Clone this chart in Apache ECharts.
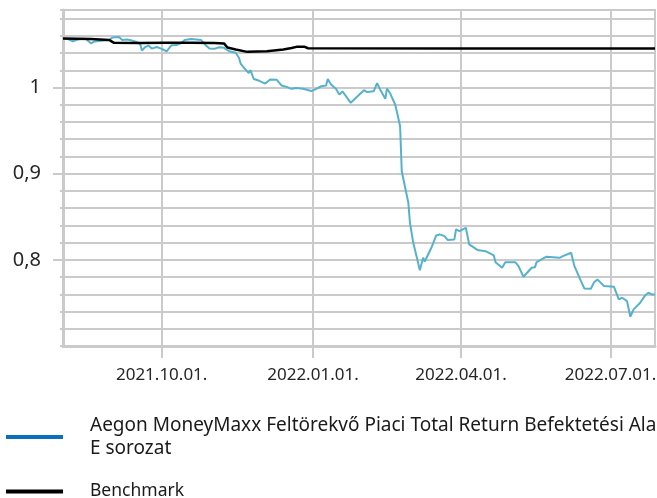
<!DOCTYPE html>
<html>
<head>
<meta charset="utf-8">
<script src="https://cdn.jsdelivr.net/npm/echarts@6/dist/echarts.min.js"></script>
<style>
html,body{margin:0;padding:0;background:#fff;}
#chart{width:657px;height:498px;}
</style>
</head>
<body>
<div id="chart"></div>
<script>
// ---- data ----
const fundName = 'Aegon MoneyMaxx Feltörekvő Piaci Total Return Befektetési Alap\nE sorozat';
const benchName = 'Benchmark';

const fundDates = [
 '2021-08-02','2021-08-05','2021-08-08','2021-08-11','2021-08-14','2021-08-16','2021-08-19','2021-08-21','2021-08-24','2021-08-27',
 '2021-08-30','2021-09-01','2021-09-05','2021-09-07','2021-09-10','2021-09-13','2021-09-16','2021-09-18','2021-09-19','2021-09-21',
 '2021-09-23','2021-09-25','2021-09-28','2021-10-01','2021-10-04','2021-10-05','2021-10-07','2021-10-10','2021-10-13','2021-10-15',
 '2021-10-19','2021-10-22','2021-10-25','2021-10-28','2021-10-30','2021-11-02','2021-11-05','2021-11-08','2021-11-11','2021-11-15',
 '2021-11-17','2021-11-18','2021-11-21','2021-11-23','2021-11-24','2021-11-26','2021-11-29','2021-12-03','2021-12-06','2021-12-10',
 '2021-12-13','2021-12-16','2021-12-19','2021-12-22','2021-12-26','2021-12-31','2022-01-03','2022-01-06','2022-01-09','2022-01-10',
 '2022-01-12','2022-01-15','2022-01-17','2022-01-19','2022-01-24','2022-01-27','2022-02-01','2022-02-03','2022-02-07','2022-02-09',
 '2022-02-11','2022-02-14','2022-02-15','2022-02-17','2022-02-20','2022-02-21','2022-02-23','2022-02-24','2022-02-25','2022-02-28',
 '2022-03-01','2022-03-03','2022-03-05','2022-03-07','2022-03-09','2022-03-10','2022-03-11','2022-03-14','2022-03-17','2022-03-19',
 '2022-03-22','2022-03-24','2022-03-28','2022-03-29','2022-03-31','2022-04-04','2022-04-06','2022-04-11','2022-04-16','2022-04-21',
 '2022-04-22','2022-04-26','2022-04-28','2022-05-04','2022-05-06','2022-05-09','2022-05-14','2022-05-16','2022-05-17','2022-05-23',
 '2022-05-31','2022-06-02','2022-06-07','2022-06-09','2022-06-13','2022-06-15','2022-06-19','2022-06-21','2022-06-23','2022-06-27',
 '2022-07-03','2022-07-06','2022-07-08','2022-07-11','2022-07-13','2022-07-15','2022-07-19','2022-07-22','2022-07-24','2022-07-26',
 '2022-07-28'
];
const fundValues = [
 1.0563,1.0563,1.0537,1.0557,1.0565,1.0563,1.0513,1.0534,1.0539,1.0545,
 1.0551,1.0580,1.0586,1.0551,1.0557,1.0545,1.0528,1.0499,1.0429,1.0470,
 1.0487,1.0452,1.0470,1.0449,1.0421,1.0412,1.0491,1.0493,1.0516,1.0551,
 1.0563,1.0557,1.0551,1.0487,1.0452,1.0449,1.0468,1.0461,1.0421,1.0403,
 1.0345,1.0278,1.0209,1.0168,1.0201,1.0099,1.0081,1.0046,1.0093,1.0089,
 1.0023,1.0008,0.9985,0.9994,0.9985,0.9959,0.9985,1.0015,1.0023,1.0099,
 1.0035,0.9985,0.9919,0.9954,0.9823,0.9878,0.9969,0.9948,0.9957,1.0052,
 0.9971,0.9869,0.9988,0.9930,0.9803,0.9722,0.9551,0.9029,0.9029,0.8662,
 0.8430,0.8198,0.8043,0.7880,0.8024,0.7981,0.7987,0.8140,0.8283,0.8295,
 0.8275,0.8229,0.8237,0.8353,0.8333,0.8372,0.8179,0.8115,0.8101,0.8051,
 0.7973,0.7908,0.7973,0.7973,0.7927,0.7804,0.7908,0.7915,0.7973,0.8036,
 0.8024,0.8043,0.8082,0.7927,0.7753,0.7668,0.7665,0.7741,0.7773,0.7695,
 0.7688,0.7541,0.7560,0.7521,0.7340,0.7425,0.7502,0.7587,0.7618,0.7599,
 0.7599
];

const benchDates = [
 '2021-08-02','2021-08-19','2021-08-30','2021-08-31','2021-09-02','2021-09-18','2021-10-03','2021-10-18','2021-11-02','2021-11-08',
 '2021-11-10','2021-11-15','2021-11-22','2021-12-04','2021-12-14','2021-12-19','2021-12-22','2021-12-27','2021-12-29','2022-04-01',
 '2022-07-28'
];
const benchValues = [
 1.0570,1.0563,1.0553,1.0551,1.0519,1.0516,1.0519,1.0519,1.0516,1.0510,
 1.0464,1.0441,1.0414,1.0421,1.0441,1.0458,1.0472,1.0472,1.0456,1.0452,
 1.0452
];

const xMin = '2021-08-02';
const xMax = '2022-07-28';
const xTickDates = ['2021-10-01','2022-01-01','2022-04-01','2022-07-01'];
const yMin = 0.7, yMax = 1.09, yStep = 0.02;
const yLabelValues = [0.8, 0.9, 1];

// ---- helpers ----
function ts(s){ const p = s.split('-').map(Number); return Date.UTC(p[0], p[1]-1, p[2]); }
function pad(n){ return (n < 10 ? '0' : '') + n; }
function fmtDate(v){ const d = new Date(v); return d.getUTCFullYear() + '.' + pad(d.getUTCMonth()+1) + '.' + pad(d.getUTCDate()) + '.'; }

const fundData = fundDates.map((d,i)=>[ts(d), fundValues[i]]);
const benchData = benchDates.map((d,i)=>[ts(d), benchValues[i]]);
const xTicks = xTickDates.map(ts);

const gridColor = '#cacaca';
const FONT = 'Noto Sans';

const chart = echarts.init(document.getElementById('chart'), null, {renderer:'canvas'});
chart.setOption({
  animation: false,
  backgroundColor: '#ffffff',
  grid: {
    left: 63, right: 2, top: 10, bottom: 152,
    show: true, borderColor: gridColor, borderWidth: 2, backgroundColor: 'transparent',
    outerBoundsMode: 'none', containLabel: false
  },
  xAxis: {
    type: 'value',
    min: ts(xMin), max: ts(xMax),
    axisLine: { show: true, lineStyle: { color: gridColor, width: 3 } },
    axisTick: { show: true, customValues: xTicks, length: 12, lineStyle: { color: gridColor, width: 2 } },
    axisLabel: { customValues: xTicks, formatter: fmtDate, margin: 21, color: '#262626', fontFamily: FONT, fontSize: 17, hideOverlap: false, showMinLabel: true, showMaxLabel: true },
    splitLine: { show: true, lineStyle: { color: gridColor, width: 2 } }
  },
  yAxis: [
    {
      type: 'value', position: 'left', min: yMin, max: yMax, interval: yStep,
      axisLine: { show: true, lineStyle: { color: gridColor, width: 3 } },
      axisTick: { show: true, length: 3, lineStyle: { color: gridColor, width: 2 } },
      axisLabel: { show: false },
      splitLine: { show: true, lineStyle: { color: gridColor, width: 2 } }
    },
    {
      type: 'value', position: 'left', min: yMin, max: yMax,
      axisLine: { show: false },
      axisTick: { show: true, customValues: yLabelValues, length: 10, lineStyle: { color: gridColor, width: 2 } },
      axisLabel: { customValues: yLabelValues, margin: 22, color: '#262626', fontFamily: FONT, fontSize: 20,
        formatter: v => String(Math.round(v*10)/10).replace('.', ',') },
      splitLine: { show: false }
    }
  ],
  legend: [
    {
      left: 6, top: 414, padding: 0, orient: 'vertical', icon: 'rect', itemWidth: 57, itemHeight: 4,
      selectedMode: false,
      textStyle: { fontFamily: FONT, fontSize: 19, color: '#1a1a1a', lineHeight: 23, padding: [0,0,0,22] },
      data: [{ name: fundName, itemStyle: { color: '#0a6fbd' } }]
    },
    {
      left: 6, top: 480, padding: 0, orient: 'vertical', icon: 'rect', itemWidth: 57, itemHeight: 4,
      selectedMode: false,
      textStyle: { fontFamily: FONT, fontSize: 17.5, color: '#1a1a1a', lineHeight: 23, padding: [0,0,0,22] },
      data: [{ name: benchName, itemStyle: { color: '#000000' } }]
    }
  ],
  series: [
    {
      name: fundName, type: 'line', data: fundData, yAxisIndex: 0,
      symbol: 'none', smooth: false,
      lineStyle: { color: '#56b2cc', width: 2 }, itemStyle: { color: '#56b2cc' }, z: 3
    },
    {
      name: benchName, type: 'line', data: benchData, yAxisIndex: 0,
      symbol: 'none', smooth: false,
      lineStyle: { color: '#000000', width: 2.5 }, itemStyle: { color: '#000000' }, z: 4
    }
  ]
});
</script>
</body>
</html>
